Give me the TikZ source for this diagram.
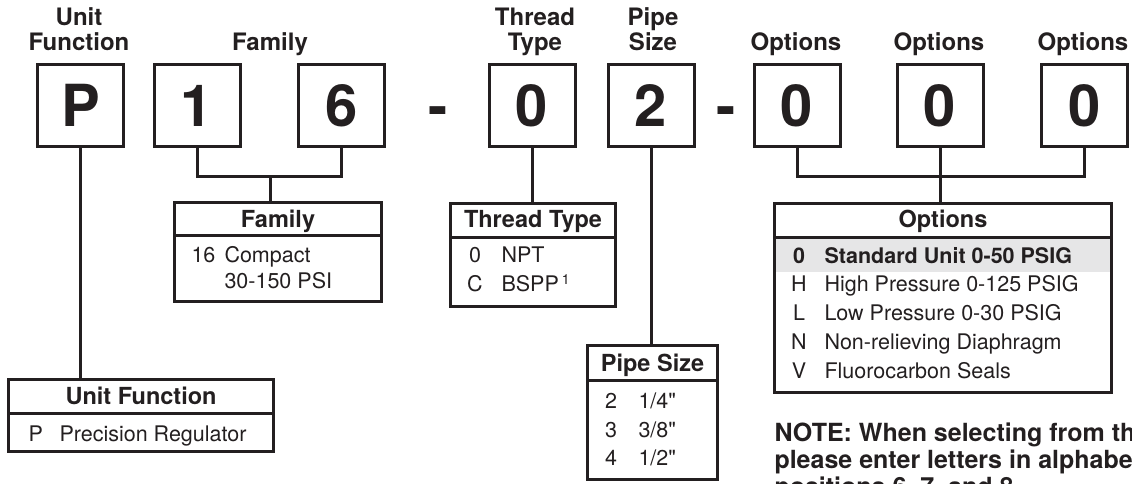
\documentclass[tikz,border=0pt]{standalone}
\usepackage{fontspec}
\newfontfamily\hv{TeX Gyre Heros}
\definecolor{ink}{HTML}{231F20}
\definecolor{band}{HTML}{E6E6E7}
\begin{document}
\begin{tikzpicture}[x=1pt,y=-1pt,line width=3pt,color=ink,
  digitbox/.style={draw,rectangle,minimum width=86pt,minimum height=82pt,inner sep=0pt,
    text height=42pt,text depth=0pt,font=\hv\bfseries\fontsize{58}{58}\selectfont},
  dashmark/.style={anchor=base,inner sep=0pt,font=\hv\bfseries\fontsize{58}{58}\selectfont},
  toplabel/.style={anchor=base,inner sep=0pt,font=\hv\bfseries\fontsize{24}{24}\selectfont},
  tablebox/.style={draw,rectangle,inner sep=0pt},
  thead/.style={anchor=base,inner sep=0pt,font=\hv\bfseries\fontsize{23.5}{24}\selectfont},
  rowcode/.style={anchor=base,inner sep=0pt,font=\hv\fontsize{21.5}{24}\selectfont},
  rowcodew/.style={anchor=base west,inner sep=0pt,font=\hv\fontsize{21.5}{24}\selectfont},
  rowtext/.style={anchor=base west,inner sep=0pt,font=\hv\fontsize{21.5}{24}\selectfont},
  notetext/.style={anchor=base west,inner sep=0pt,font=\hv\bfseries\fontsize{25}{25}\selectfont},
  wire/.style={line width=3pt,line join=miter}]
\useasboundingbox (0,0) rectangle (1132,483);
\clip (0,0) rectangle (1132,483);

% top labels
\node[toplabel] (lu1) at (79,25) {Unit};
\node[toplabel] (lu2) at (79,50) {Function};
\node[toplabel] (lf) at (270,50) {Family};
\node[toplabel] (lt1) at (535,25) {Thread};
\node[toplabel] (lt2) at (535,50) {Type};
\node[toplabel] (lp1) at (653,25) {Pipe};
\node[toplabel] (lp2) at (653,50) {Size};
\node[toplabel] (lo1) at (796,50) {Options};
\node[toplabel] (lo2) at (939,50) {Options};
\node[toplabel] (lo3) at (1083,50) {Options};

% code boxes
\node[digitbox] (bP) at (80.5,105) {P};
\node[digitbox] (b1) at (197,105) {1};
\node[digitbox] (b6) at (341.5,105) {6};
\node[dashmark] (d1) at (438,126) {-};
\node[digitbox] (b0) at (532,105) {0};
\node[digitbox] (b2) at (651,105) {2};
\node[dashmark] (d2) at (726.5,126) {-};
\node[digitbox] (o1) at (797,105) {0};
\node[digitbox] (o2) at (940,105) {0};
\node[digitbox] (o3) at (1084.5,105) {0};

% tables
\node[tablebox,minimum width=207pt,minimum height=99pt] (tFam) at (278,252) {};
\node[tablebox,minimum width=165pt,minimum height=103pt] (tThr) at (533,255) {};
\node[tablebox,minimum width=265pt,minimum height=72pt] (tUnit) at (141,415.5) {};
\node[tablebox,minimum width=130pt,minimum height=134pt] (tPipe) at (652.5,412.5) {};
\fill[band] (774.5,238.5) rectangle (1111.5,272);
\node[tablebox,minimum width=337pt,minimum height=189pt] (tOpt) at (943,298) {};

% dividers
\coordinate (famD) at (0,235);
\coordinate (thrD) at (0,237);
\coordinate (unitD) at (0,413);
\coordinate (pipeD) at (0,380);
\coordinate (optD) at (0,237);
\draw (tFam.west |- famD) -- (tFam.east |- famD);
\draw (tThr.west |- thrD) -- (tThr.east |- thrD);
\draw (tUnit.west |- unitD) -- (tUnit.east |- unitD);
\draw (tPipe.west |- pipeD) -- (tPipe.east |- pipeD);
\draw (tOpt.west |- optD) -- (tOpt.east |- optD);

% connectors
\coordinate (famJ) at (270,176);
\coordinate (optJ) at (940,176);
\draw[wire] (bP.south) -- (bP.south |- tUnit.north);
\draw[wire] (b1.south) -- (b1.south |- famJ) -- (b6.south |- famJ) -- (b6.south);
\draw[wire] (famJ) -- (famJ |- tFam.north);
\draw[wire] (b0.south) -- (b0.south |- tThr.north);
\draw[wire] (b2.south) -- (b2.south |- tPipe.north);
\draw[wire] (o1.south) -- (o1.south |- optJ) -- (o3.south |- optJ) -- (o3.south);
\draw[wire] (o2.south) -- (o2.south |- tOpt.north);

% family table text
\node[thead] (hFam) at (278,227) {Family};
\node[rowcodew] (cF1) at (190,262) {16};
\node[rowtext] (xF1) at (223,262) {Compact};
\node[rowtext] (xF2) at (223,288) {30-150 PSI};

% thread table text
\node[thead] (hThr) at (533,227) {Thread Type};
\node[rowcode] (cT1) at (475,262) {0};
\node[rowtext] (xT1) at (500,262) {NPT};
\node[rowcode] (cT2) at (475,291) {C};
\node[rowtext] (xT2) at (500,291) {BSPP\hspace{3pt}\raisebox{7pt}{\fontsize{14}{14}\selectfont 1}};

% unit function table text
\node[thead] (hUnit) at (141,404.5) {Unit Function};
\node[rowcodew] (cU1) at (27,441) {P};
\node[rowtext] (xU1) at (58,441) {Precision Regulator};

% pipe size table text
\node[thead] (hPipe) at (652.5,371.5) {Pipe Size};
\node[rowcode] (cP1) at (611,408) {2};
\node[rowtext] (xP1) at (637,408) {1/4"};
\node[rowcode] (cP2) at (611,437) {3};
\node[rowtext] (xP2) at (637,437) {3/8"};
\node[rowcode] (cP3) at (611,465) {4};
\node[rowtext] (xP3) at (637,465) {1/2"};

% options table text
\node[thead] (hOpt) at (943,227.5) {Options};
\node[rowcode,font=\hv\bfseries\fontsize{21.5}{24}\selectfont] (cO1) at (799,263) {0};
\node[rowtext,font=\hv\bfseries\fontsize{21.5}{24}\selectfont] (xO1) at (823,263) {Standard Unit 0-50 PSIG};
\node[rowcode] (cO2) at (799,291) {H};
\node[rowtext] (xO2) at (823,291) {High Pressure 0-125 PSIG};
\node[rowcode] (cO3) at (799,320) {L};
\node[rowtext] (xO3) at (823,320) {Low Pressure 0-30 PSIG};
\node[rowcode] (cO4) at (799,349) {N};
\node[rowtext] (xO4) at (823,349) {Non-relieving Diaphragm};
\node[rowcode] (cO5) at (799,378) {V};
\node[rowtext] (xO5) at (823,378) {Fluorocarbon Seals};

% note (cut off at the picture's edge, as in the reference)
\node[notetext] (n1) at (773,441) {NOTE: When selecting from the options,};
\node[notetext] (n2) at (773,468) {please enter letters in alphabetical order for};
\node[notetext] (n3) at (773,495) {positions 6, 7, and 8.};
\end{tikzpicture}
\end{document}
